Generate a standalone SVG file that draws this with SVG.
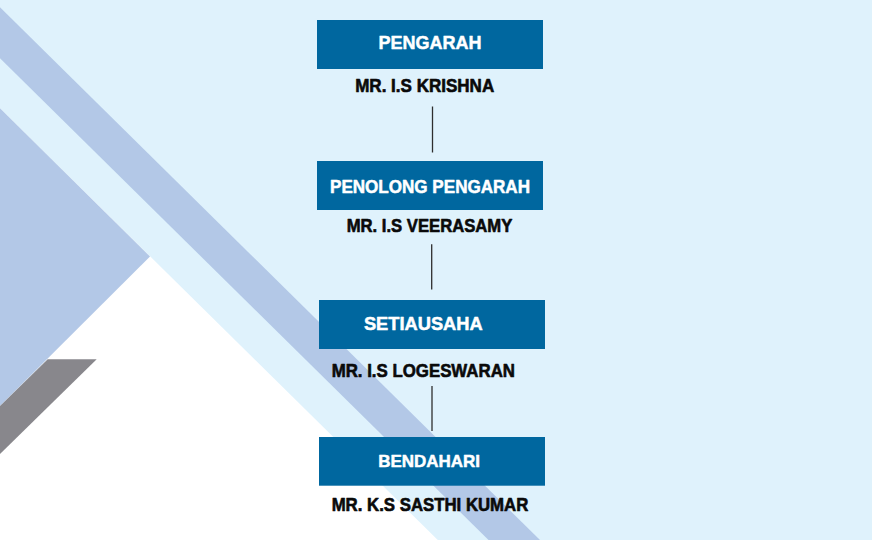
<svg xmlns="http://www.w3.org/2000/svg" width="872" height="540" viewBox="0 0 872 540">
  <style>
    .box { fill: #00679F; }
    .title { font-family: "Liberation Sans", Arial, sans-serif; font-weight: bold; fill: #FFFFFF; stroke: #FFFFFF; stroke-width: 0.5; stroke-linejoin: round; text-anchor: middle; }
    .name { font-family: "Liberation Sans", Arial, sans-serif; font-weight: bold; fill: #0A0A0A; stroke: #0A0A0A; stroke-width: 0.6; stroke-linejoin: round; text-anchor: middle; font-size: 17.5px; }
    .conn { stroke: #2E2E2E; stroke-width: 1.3; fill: none; }
  </style>
  <g id="background">
    <rect x="0" y="0" width="872" height="540" fill="#FFFFFF"/>
    <polygon points="0,0 872,0 872,540 437.8,540 0,108.3" fill="#DFF2FC"/>
    <polygon points="0,7.3 540,540 488.5,540 0,58.3" fill="#B3C8E7"/>
    <polygon points="0,108.3 150,256.5 0,406" fill="#B3C8E7"/>
    <polygon points="47.7,359.3 96.7,359.3 0,454 0,406" fill="#88878C"/>
  </g>
  <g id="connectors">
    <line class="conn" x1="432.5" y1="106.5" x2="432.5" y2="152.5"/>
    <line class="conn" x1="431.7" y1="244.3" x2="431.7" y2="289.5"/>
    <line class="conn" x1="432" y1="386" x2="432" y2="431"/>
  </g>
  <g id="node-pengarah">
    <rect class="box" x="317" y="20" width="226" height="49"/>
    <text class="title" x="430" y="49.3" font-size="19" textLength="103" lengthAdjust="spacingAndGlyphs">PENGARAH</text>
    <text class="name" x="424.7" y="92.3" textLength="139" lengthAdjust="spacingAndGlyphs">MR. I.S KRISHNA</text>
  </g>
  <g id="node-penolong-pengarah">
    <rect class="box" x="317" y="161" width="226" height="49"/>
    <text class="title" x="430" y="192.7" font-size="17.5" textLength="200" lengthAdjust="spacingAndGlyphs">PENOLONG PENGARAH</text>
    <text class="name" x="429.5" y="232.3" textLength="165.7" lengthAdjust="spacingAndGlyphs">MR. I.S VEERASAMY</text>
  </g>
  <g id="node-setiausaha">
    <rect class="box" x="319" y="300" width="226" height="49"/>
    <text class="title" x="423.3" y="330" font-size="18.5" textLength="118.7" lengthAdjust="spacingAndGlyphs">SETIAUSAHA</text>
    <text class="name" x="423.3" y="376.7" textLength="183.3" lengthAdjust="spacingAndGlyphs">MR. I.S LOGESWARAN</text>
  </g>
  <g id="node-bendahari">
    <rect class="box" x="319" y="437" width="226" height="48.7"/>
    <text class="title" x="429" y="467.3" font-size="17" textLength="101.7" lengthAdjust="spacingAndGlyphs">BENDAHARI</text>
    <text class="name" x="430" y="510.7" textLength="196.7" lengthAdjust="spacingAndGlyphs">MR. K.S SASTHI KUMAR</text>
  </g>
</svg>
